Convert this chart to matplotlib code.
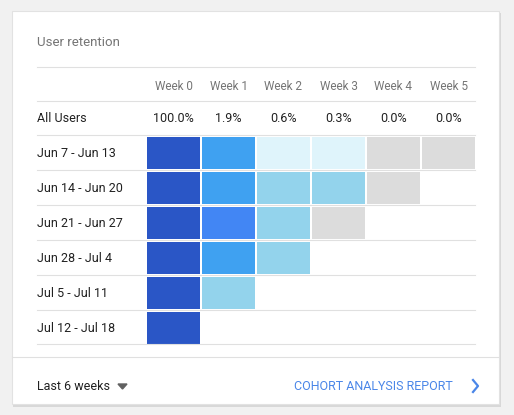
import matplotlib
matplotlib.use("Agg")
import matplotlib.pyplot as plt
from matplotlib.patches import Rectangle, FancyBboxPatch

plt.rcParams['font.family'] = ['Roboto', 'DejaVu Sans']

weeks = ["Week 0", "Week 1", "Week 2", "Week 3", "Week 4", "Week 5"]
all_users = ["100.0%", "1.9%", "0.6%", "0.3%", "0.0%", "0.0%"]
cohorts = ["Jun 7 - Jun 13", "Jun 14 - Jun 20", "Jun 21 - Jun 27",
           "Jun 28 - Jul 4", "Jul 5 - Jul 11", "Jul 12 - Jul 18"]
retention = [
    [100.0, 2.0, 0.3, 0.3, 0.0, 0.0],
    [100.0, 2.1, 1.0, 1.0, 0.0],
    [100.0, 3.0, 1.0, 0.0],
    [100.0, 2.2, 1.0],
    [100.0, 1.2],
    [100.0],
]

def color_for(v):
    if v <= 0: return "#dcdcdc"
    if v < 0.5: return "#dff4fb"
    if v < 1.5: return "#93d3ec"
    if v < 2.5: return "#3fa1f1"
    if v < 10: return "#4286f4"
    return "#2a56c6"

W, H = 514, 415
fig = plt.figure(figsize=(W/100, H/100), dpi=100)
fig.patch.set_facecolor("#f1f1f1")
ax = fig.add_axes([0, 0, 1, 1])
ax.set_xlim(0, W); ax.set_ylim(H, 0); ax.axis("off")

# card with shadow
ax.add_patch(Rectangle((13, 13), 488, 394, facecolor="#d8d8d8", edgecolor="none"))
ax.add_patch(Rectangle((12, 11), 487, 393, facecolor="white", edgecolor="#e2e2e2", lw=0.8))

gray = "#757575"; dark = "#212121"; line = "#e0e0e0"
ax.text(37, 43, "User retention", color=gray, fontsize=9.5, va="center")
for y in [67, 101, 135, 170, 205, 240, 275, 310, 344]:
    ax.plot([37, 475], [y, y], color=line, lw=0.8)
ax.plot([12, 499], [357, 357], color=line, lw=0.8)

col_w = 55; x0 = 146
for i, w in enumerate(weeks):
    cx = x0 + col_w*i + col_w/2
    ax.text(cx, 86, w, color=gray, fontsize=8.5, ha="center", va="center")
    ax.text(cx, 118, all_users[i], color=dark, fontsize=9, ha="center", va="center")
ax.text(37, 118, "All Users", color=dark, fontsize=9, va="center")

row_h = 35
for r, (name, vals) in enumerate(zip(cohorts, retention)):
    top = 136 + r*row_h
    ax.text(37, top + 17, name, color=dark, fontsize=9, va="center")
    xs = [x0 + 1 + col_w*i for i in range(len(vals))]
    ax.bar(xs, [row_h - 3]*len(vals), width=53, bottom=top + 1, align="edge",
           color=[color_for(v) for v in vals], edgecolor="none")

ax.text(37, 386, "Last 6 weeks", color=dark, fontsize=9, va="center")
ax.plot([118, 122.5, 127], [384, 389, 384], color="#616161", lw=0)
ax.fill([118, 127, 122.5], [384, 384, 389], color="#616161")
ax.text(453, 386, "COHORT ANALYSIS REPORT", color="#4a86e8", fontsize=9, ha="right", va="center")
ax.plot([473, 478, 473], [380, 386, 392], color="#4a86e8", lw=1.6)

fig.savefig("out.png", dpi=100, facecolor=fig.get_facecolor())
